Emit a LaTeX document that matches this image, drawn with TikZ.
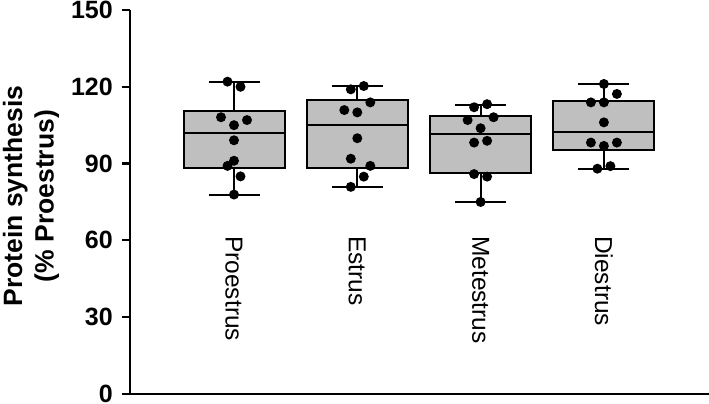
\documentclass[tikz,border=0pt]{standalone}
\usepackage{fontspec}
\setmainfont{Liberation Sans}
\usepackage{tikz}

\tikzset{
  axisline/.style={line width=2.2pt},
  whisk/.style={line width=2pt},
  boxfill/.style={line width=2pt,fill=black!25},
  dot/.style={fill=black},
  ticklabel/.style={anchor=east,inner sep=0pt,font=\fontsize{25}{30}\selectfont\bfseries},
  catlabel/.style={rotate=-90,anchor=west,inner sep=0pt,font=\fontsize{24.5}{28}\selectfont},
  ylabel/.style={rotate=90,align=center,inner sep=0pt,font=\fontsize{26.5}{31.5}\selectfont\bfseries}
}

\begin{document}
\begin{tikzpicture}[x=1pt,y=2.56pt]
      \useasboundingbox (-130,-3.906) rectangle (579,153.9);
      \coordinate (O) at (0,0);
      \coordinate (T) at (0,150);
      \coordinate (E) at (579,0);
      \draw[axisline] (T) -- (O) -- (E);
      \foreach \v in {0,30,...,150} {
        \draw[axisline] (-8,\v) -- (0,\v);
        \node[ticklabel] (tick\v) at (-17,\v) {\v};
      }
      \node[ylabel] (ylab) at (-99,77.3) {Protein synthesis\\(\% Proestrus)};
      % boxes: centre / low / q1 / median / q3 / high / phase
      \foreach \cx/\lo/\qa/\me/\qb/\hi/\ph in {104/77.9/88.4/102.1/110.5/122.0/Proestrus,
          227.3/81.0/88.4/105.1/114.8/120.3/Estrus,
          350.6/75.1/86.3/101.7/108.7/112.9/Metestrus,
          473.9/88.0/95.3/102.2/114.5/121.0/Diestrus} {
        \draw[whisk] (\cx,\lo) -- (\cx,\qa) (\cx,\qb) -- (\cx,\hi)
          (\cx-25.5,\lo) -- (\cx+25.5,\lo) (\cx-25.5,\hi) -- (\cx+25.5,\hi);
        \draw[boxfill] (\cx-50.5,\qa) rectangle (\cx+50.5,\qb);
        \draw[whisk] (\cx-50.5,\me) -- (\cx+50.5,\me);
        \node[catlabel] (lab\ph) at (\cx,61.7) {\ph};
      }
      % single animals
      \foreach \cx/\dx/\v in {104/-6.5/122.0, 104/6.5/120.0, 104/-13/108.1, 104/0/105.0,
          104/13/107.0, 104/0/99.1, 104/0/91.1, 104/-6.5/89.1, 104/6.5/85.0, 104/0/77.9,
          227.3/-6.5/119.0, 227.3/6.5/120.3, 227.3/13/113.9, 227.3/-13/110.9, 227.3/0/110.0,
          227.3/0/99.9, 227.3/-6.5/91.9, 227.3/13/89.1, 227.3/6.5/84.9, 227.3/-6.5/80.9,
          350.6/-6.5/112.0, 350.6/6.5/113.2, 350.6/-13/107.0, 350.6/13/108.1, 350.6/0/103.8,
          350.6/-6.5/98.2, 350.6/6.5/98.9, 350.6/-6.5/85.9, 350.6/6.5/84.9, 350.6/0/75.0,
          473.9/0/121.1, 473.9/13/117.2, 473.9/-13/113.9, 473.9/0/113.9, 473.9/0/106.1,
          473.9/-13/98.2, 473.9/0/96.9, 473.9/13/98.2, 473.9/-6.5/88.0, 473.9/6.5/89.0} {
        \fill[dot] (\cx+\dx,\v) circle[radius=5pt];
      }
    \end{tikzpicture}
\end{document}
